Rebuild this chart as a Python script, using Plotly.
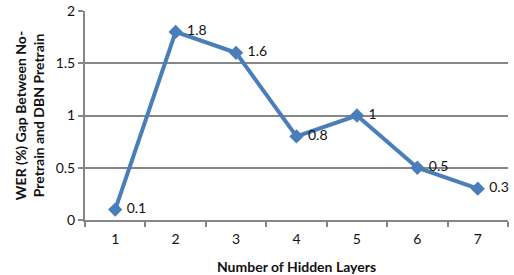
import plotly.graph_objects as go

layers = ["1", "2", "3", "4", "5", "6", "7"]
gap = [0.1, 1.8, 1.6, 0.8, 1.0, 0.5, 0.3]
labels = ["0.1", "1.8", "1.6", "0.8", "1", "0.5", "0.3"]

fig = go.Figure()
fig.add_trace(go.Scatter(
    x=layers, y=gap, mode="lines+markers+text",
    text=[" " + s for s in labels], textposition="middle right",
    textfont=dict(family="Lato, Open Sans, sans-serif", size=14, color="#111"),
    line=dict(color="#4A7EBB", width=4),
    marker=dict(symbol="diamond", size=11, color="#4A7EBB"),
    cliponaxis=False,
))

fig.update_layout(
    width=514, height=275,
    margin=dict(l=85, r=6, t=11, b=55, autoexpand=False),
    paper_bgcolor="white", plot_bgcolor="white",
    showlegend=False,
    font=dict(family="Lato, Open Sans, sans-serif", size=14, color="#111"),
    xaxis=dict(
        type="category", range=[-0.5, 6.5], automargin=False,
        tickson="boundaries", ticks="outside", ticklen=5, tickwidth=2, tickcolor="#868686",
        ticklabelstandoff=5,
        showline=True, linecolor="#868686", linewidth=2, showgrid=False,
        tickfont=dict(size=14),
        title=dict(text="<b>Number of Hidden Layers</b>", font=dict(size=14), standoff=16),
    ),
    yaxis=dict(
        range=[0, 2], tickvals=[0, 0.5, 1, 1.5, 2], ticktext=["0", "0.5", "1", "1.5", "2"],
        automargin=False, ticklabeloverflow="allow",
        ticks="outside", ticklen=5, tickwidth=2, tickcolor="#868686",
        showline=True, linecolor="#868686", linewidth=2,
        showgrid=True, gridcolor="#868686", gridwidth=2, zeroline=False,
        tickfont=dict(size=14),
        title=dict(text="<b>WER (%) Gap Between No-<br>Pretrain and DBN Pretrain</b>", font=dict(size=14), standoff=8),
    ),
)

fig.write_html("out.html", config={"displayModeBar": False},
               post_script="document.body.style.margin='0';")
